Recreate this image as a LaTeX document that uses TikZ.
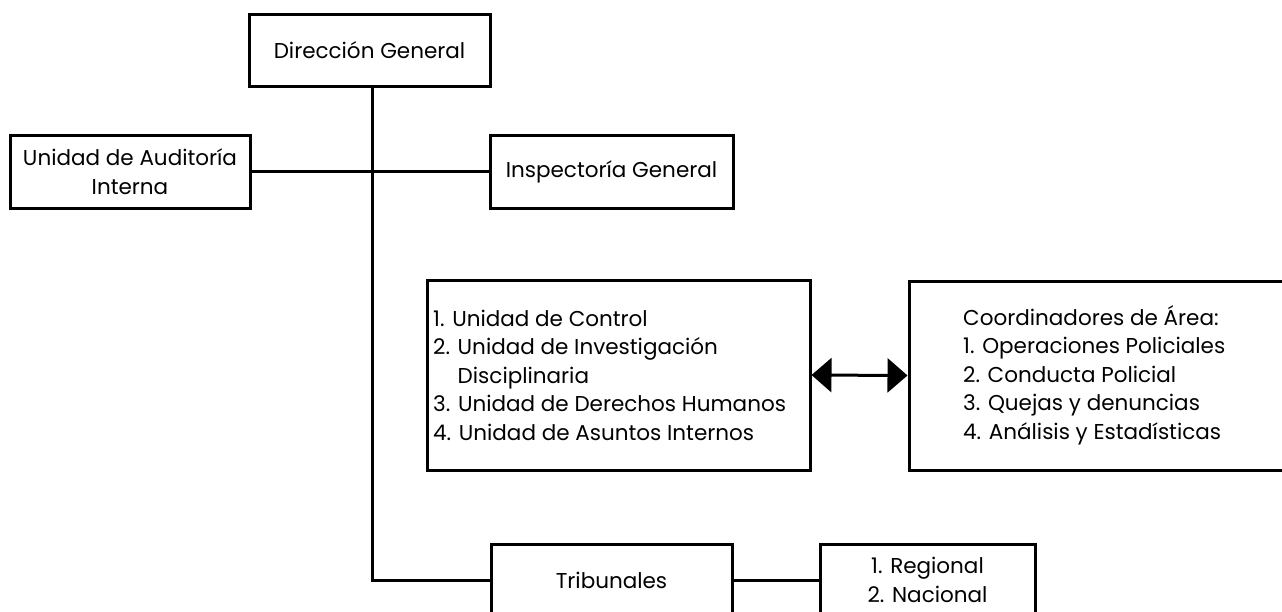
\documentclass[tikz,border=0pt]{standalone}
\usepackage{fontspec}
\setmainfont{Poppins}
\usetikzlibrary{arrows.meta}
\begin{document}
\begin{tikzpicture}[x=1pt,y=-1pt,
  box/.style={draw,line width=3pt,inner sep=0pt,align=center},
  txt/.style={inner sep=0pt,align=left,anchor=west},
  conn/.style={line width=3pt},
  every node/.append style={font=\fontsize{21.5}{28.5}\selectfont}]
\useasboundingbox (0,0) rectangle (1282,611);
\clip (0,0) rectangle (1282,611);
\node[box,minimum width=241pt,minimum height=72pt] (dg) at (369.5,50) {Dirección General};
\node[box,minimum width=240pt,minimum height=73pt] (aud) at (130,171.5) {Unidad de Auditoría\\Interna};
\node[box,minimum width=243pt,minimum height=73pt] (insp) at (611.5,171.5) {Inspectoría General};
\node[box,minimum width=383pt,minimum height=190pt] (units) at (618.5,375) {};
\node[txt] (unitstxt) at (433,375) {1. Unidad de Control\\2. Unidad de Investigación\\\hphantom{2. }Disciplinaria\\3. Unidad de Derechos Humanos\\4. Unidad de Asuntos Internos};
\node[box,minimum width=375pt,minimum height=189pt] (coord) at (1096.5,375.5) {};
\node[txt] (coordtxt) at (963,375) {Coordinadores de Área:\\1. Operaciones Policiales\\2. Conducta Policial\\3. Quejas y denuncias\\4. Análisis y Estadísticas};
\node[box,minimum width=241pt,minimum height=72pt] (trib) at (611.5,580) {Tribunales};
\node[box,minimum width=215pt,minimum height=72pt] (reg) at (927.5,580) {1. Regional\\2. Nacional};
\draw[conn] ([xshift=2.5pt]dg.south) |- (trib.west);
\draw[conn] (aud.east) -- (insp.west);
\draw[conn] (trib.east) -- (reg.west);
\draw[conn,{Triangle[length=20pt,width=34pt]}-{Triangle[length=20pt,width=34pt]}] (units.east) -- (coord.west);
\end{tikzpicture}
\end{document}
